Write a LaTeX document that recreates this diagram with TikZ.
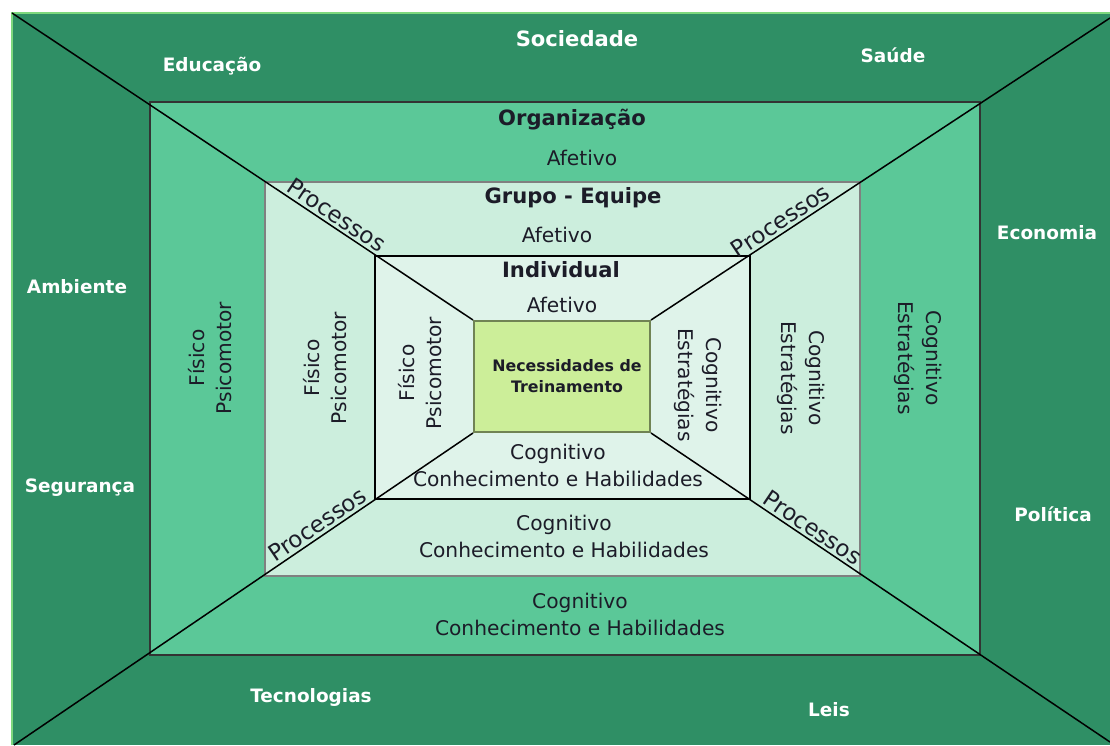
\documentclass[tikz,border=0pt]{standalone}
\usepackage{fontspec}
\setmainfont{DejaVu Sans}
\usepackage{tikz}

\definecolor{sociedade}{HTML}{2F8F65}
\definecolor{organizacao}{HTML}{5BC898}
\definecolor{grupo}{HTML}{CCEEDD}
\definecolor{individual}{HTML}{DFF3EA}
\definecolor{necessidade}{HTML}{CCEE99}
\definecolor{borda}{HTML}{7DD87D}
\definecolor{texto}{HTML}{1C1C28}

\begin{document}
\begin{tikzpicture}[x=0.2mm,y=-0.2mm,line width=.3mm,
        outer/.style={text=white,font=\fontsize{10.5}{13}\selectfont\bfseries},
        head/.style={text=texto,font=\fontsize{12}{15}\selectfont\bfseries},
        lbl/.style={text=texto,align=center,font=\fontsize{11.5}{15.5}\selectfont},
        vleft/.style={lbl,rotate=90},
        vright/.style={lbl,rotate=-90},
        proc/.style={text=texto,sloped,above,inner sep=1.5pt,font=\fontsize{13}{15}\selectfont}]
        \useasboundingbox (0,0) rectangle (1110,745);

        % corners of the frames
        \coordinate (S_tl) at (12,13);
        \coordinate (S_tr) at (1110,18);
        \coordinate (S_bl) at (14,745);
        \coordinate (S_br) at (1110,742);

        \fill[sociedade] (12,13) rectangle (1110,745);
        \draw[borda,line width=.4mm] (12,745) -- (12,13) -- (1110,13);
        \filldraw[fill=organizacao,draw=black!80] (150,102) rectangle (980,655);
        \filldraw[fill=grupo,draw=black!50,line width=.4mm] (265,182) rectangle (860,576);
        \filldraw[fill=individual,draw=black] (375,256) rectangle (750,499);

        \node[draw=black!45!necessidade,line width=.4mm,fill=necessidade,minimum width=35.2mm,minimum height=22.2mm] (N) at (562,376.5) {};
        \node[text=texto,align=center,font=\fontsize{9}{12}\selectfont\bfseries] (N_txt) at (567,376) {Necessidades de\\Treinamento};

        \draw (S_tl) -- (N.north west) node[proc,pos=0.69] (P_tl) {Processos};
        \draw (N.north east) -- (S_tr) node[proc,pos=0.296] (P_tr) {Processos};
        \draw (S_bl) -- (N.south west) node[proc,pos=0.675] (P_bl) {Processos};
        \draw (N.south east) -- (S_br) node[proc,pos=0.338] (P_br) {Processos};

        % outer ring
        \node[outer,font=\fontsize{12}{15}\selectfont\bfseries] (Soc) at (577,39) {Sociedade};
        \node[outer] (Edu) at (212,66) {Educação};
        \node[outer] (Sau) at (893,55) {Saúde};
        \node[outer] (Amb) at (77,287) {Ambiente};
        \node[outer] (Seg) at (80,488) {Segurança};
        \node[outer] (Eco) at (1047,233) {Economia};
        \node[outer] (Pol) at (1053,514) {Política};
        \node[outer] (Tec) at (311,697) {Tecnologias};
        \node[outer] (Leis) at (829,710) {Leis};

        % organizacao
        \node[head] (Org) at (572,120) {Organização};
        \node[lbl] (Org_af) at (582,158) {Afetivo};
        \node[vleft] (Org_fi) at (210,358) {Físico\\Psicomotor};
        \node[vright] (Org_co) at (918,358) {Cognitivo\\Estratégias};
        \node[lbl] (Org_ch) at (580,614.5) {Cognitivo\\Conhecimento e Habilidades};

        % grupo
        \node[head] (Gru) at (573,198) {Grupo - Equipe};
        \node[lbl] (Gru_af) at (557,235) {Afetivo};
        \node[vleft] (Gru_fi) at (325,368) {Físico\\Psicomotor};
        \node[vright] (Gru_co) at (801,378) {Cognitivo\\Estratégias};
        \node[lbl] (Gru_ch) at (564,536.5) {Cognitivo\\Conhecimento e Habilidades};

        % individual
        \node[head] (Ind) at (561,270) {Individual};
        \node[lbl] (Ind_af) at (562,305) {Afetivo};
        \node[vleft] (Ind_fi) at (420,373) {Físico\\Psicomotor};
        \node[vright] (Ind_co) at (698,385) {Cognitivo\\Estratégias};
        \node[lbl] (Ind_ch) at (558,465.5) {Cognitivo\\Conhecimento e Habilidades};

    \end{tikzpicture}
\end{document}
